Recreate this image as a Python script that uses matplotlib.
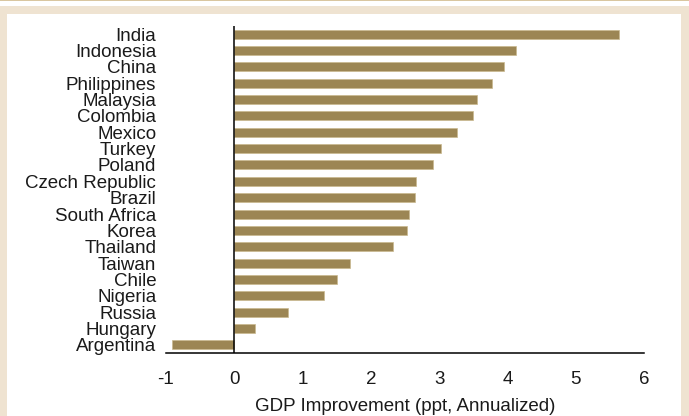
import matplotlib
matplotlib.use("Agg")
import matplotlib.pyplot as plt
from matplotlib.patches import Rectangle

countries = [
    "India", "Indonesia", "China", "Philippines", "Malaysia", "Colombia",
    "Mexico", "Turkey", "Poland", "Czech Republic", "Brazil", "South Africa",
    "Korea", "Thailand", "Taiwan", "Chile", "Nigeria", "Russia", "Hungary",
    "Argentina",
]
gdp_improvement = [
    5.64, 4.13, 3.95, 3.78, 3.55, 3.50, 3.26, 3.02, 2.91, 2.66, 2.64, 2.56,
    2.53, 2.33, 1.70, 1.51, 1.32, 0.78, 0.30, -0.91,
]
x_ticks = [-1, 0, 1, 2, 3, 4, 5, 6]

BAR = "#9c8654"
BEIGE = "#efe3d1"
TAN = "#d9c6a0"

plt.rcParams["font.family"] = ["Liberation Sans", "DejaVu Sans"]

fig = plt.figure(figsize=(6.89, 4.16), dpi=100)
fig.patch.set_facecolor("white")
W, H = 689, 416
# beige frame, white panel, thin tan line on top
fig.add_artist(Rectangle((0, 0), 1, (H - 6) / H, transform=fig.transFigure,
                         facecolor=BEIGE, edgecolor="none", zorder=-3))
fig.add_artist(Rectangle((7 / W, 0), (681 - 7) / W, (H - 14) / H, transform=fig.transFigure,
                         facecolor="white", edgecolor="none", zorder=-2))
fig.add_artist(Rectangle((0, (H - 1.3) / H), 1, 1.3 / H, transform=fig.transFigure,
                         facecolor=TAN, edgecolor="none", zorder=-1))

ax = fig.add_axes([166 / W, (H - 353) / H, (644 - 166) / W, (353 - 26) / H])
ax.patch.set_alpha(0)

pos = list(range(len(countries)))
ax.barh(pos, gdp_improvement, height=0.55, color=BAR, edgecolor="#c9b98f", linewidth=0.5, zorder=2)
ax.axvline(0, color="black", linewidth=1.1, zorder=3)

ax.set_xlim(-1, 6)
ax.set_ylim(len(countries) - 0.5, -0.5)
ax.set_xticks(x_ticks)
ax.set_xticklabels([str(t) for t in x_ticks])
ax.set_yticks(pos)
ax.set_yticklabels(countries)
ax.tick_params(axis="both", length=0, labelsize=13.5, colors="#1a1a1a")
ax.tick_params(axis="y", pad=7)
ax.tick_params(axis="x", pad=13)

for side in ["left", "right", "top"]:
    ax.spines[side].set_visible(False)
ax.spines["bottom"].set_color("black")
ax.spines["bottom"].set_linewidth(1.1)

ax.set_xlabel("GDP Improvement (ppt, Annualized)", fontsize=13.5, color="#1a1a1a", labelpad=7)

fig.savefig("out.png", dpi=100, facecolor=fig.get_facecolor())
